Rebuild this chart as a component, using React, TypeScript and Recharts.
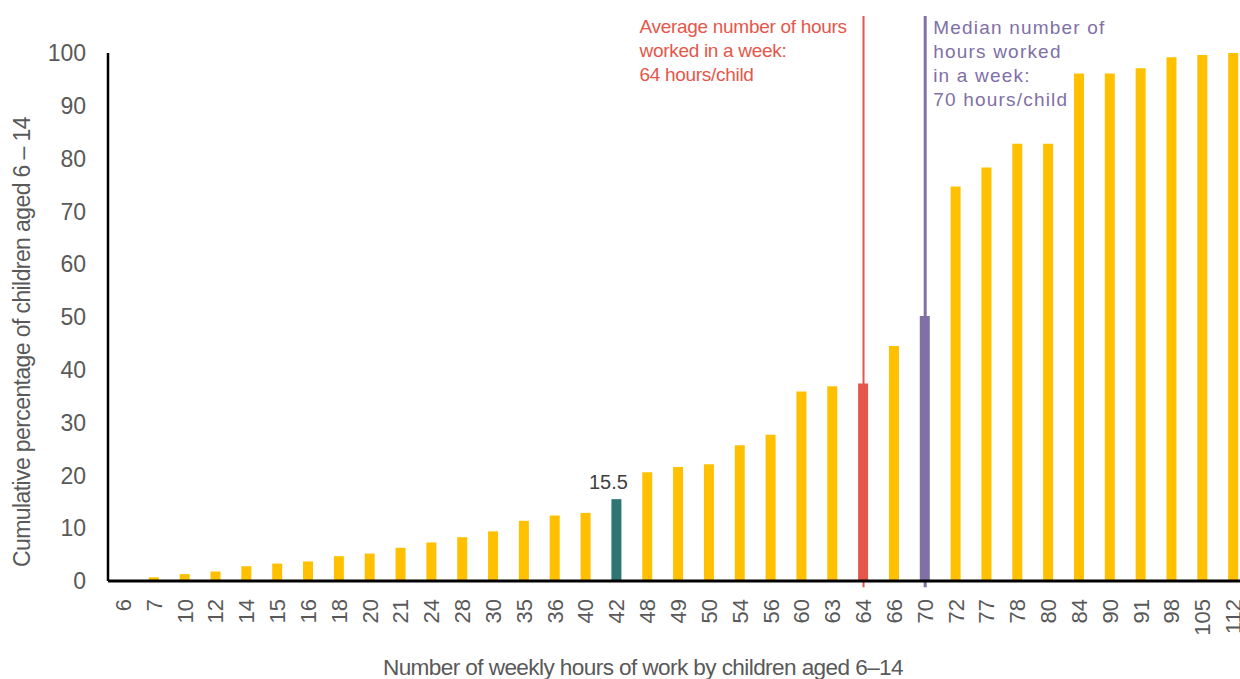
import React from "react";
import { BarChart, Bar, XAxis, YAxis, Cell, ReferenceLine, LabelList, Label } from "recharts";

const hours = ["6", "7", "10", "12", "14", "15", "16", "18", "20", "21", "24", "28", "30", "35", "36", "40", "42", "48", "49", "50", "54", "56", "60", "63", "64", "66", "70", "72", "77", "78", "80", "84", "90", "91", "98", "105", "112"];
const cumulative = [0, 0.7, 1.3, 1.8, 2.8, 3.3, 3.7, 4.7, 5.2, 6.3, 7.3, 8.3, 9.4, 11.4, 12.4, 12.9, 15.5, 20.6, 21.6, 22.1, 25.7, 27.7, 35.9, 36.9, 37.4, 44.5, 50.2, 74.7, 78.3, 82.8, 82.8, 96.1, 96.1, 97.1, 99.2, 99.6, 100];
const yTicks = [0, 10, 20, 30, 40, 50, 60, 70, 80, 90, 100];

const highlightColors: Record<string, string> = { "42": "#2E7673", "64": "#E5574A", "70": "#8070A6" };
const labelled = ["42"];
const avgHours = "64";
const medianHours = "70";
const avgNote = ["Average number of hours", "worked in a week:", "64 hours/child"];
const medianNote = ["Median number of", "hours worked", "in a week:", "70 hours/child"];

const data = hours.map((h, i) => ({
  hours: h,
  pct: cumulative[i],
  note: labelled.includes(h) ? cumulative[i] : null,
}));

const font = "Liberation Sans, Arial, sans-serif";
const grey = "#595959";

const XTick = ({ x, y, payload }: any) => (
  <text
    x={x}
    y={y + 16}
    transform={`rotate(-90 ${x} ${y + 16})`}
    textAnchor="end"
    dominantBaseline="central"
    fontSize={22}
    fill={grey}
    fontFamily={font}
  >
    {payload.value}
  </text>
);

const AvgText = ({ viewBox }: any) => {
  const x = (viewBox?.x ?? 0) - 224;
  return (
    <text x={x} fontSize={19} fill="#E5574A" fontFamily={font} letterSpacing={-0.3}>
      {avgNote.map((t, i) => (
        <tspan key={i} x={x} y={33 + i * 24}>{t}</tspan>
      ))}
    </text>
  );
};

const MedianText = ({ viewBox }: any) => {
  const x = (viewBox?.x ?? 0) + 8;
  return (
    <text x={x} fontSize={19} fill="#8070A6" fontFamily={font} letterSpacing={1.2}>
      {medianNote.map((t, i) => (
        <tspan key={i} x={x} y={34 + i * 24}>{t}</tspan>
      ))}
    </text>
  );
};

const NoteLabel = ({ x, y, width, value }: any) => {
  if (value == null) return null;
  return (
    <text x={x + width / 2 - 8} y={y - 10} textAnchor="middle" fontSize={20} fill="#404040" fontFamily={font}>
      {value}
    </text>
  );
};

export default function App() {
  return (
    <div style={{ position: "absolute", left: 0, top: 0, width: 1240, height: 679, overflow: "hidden", background: "#fff" }}>
      <BarChart width={1252} height={679} data={data} margin={{ top: 53, right: 3, bottom: 0, left: 0 }}>
        <XAxis
          dataKey="hours"
          interval={0}
          height={98}
          tick={<XTick />}
          tickLine={false}
          tickSize={0}
          axisLine={{ stroke: "#000", strokeWidth: 3 }}
        >
          <Label
            content={() => (
              <text x={643} y={675} textAnchor="middle" fontSize={22.6} fill={grey} fontFamily={font} letterSpacing={-0.6}>
                Number of weekly hours of work by children aged 6–14
              </text>
            )}
          />
        </XAxis>
        <YAxis
          width={108}
          domain={[0, 100]}
          ticks={yTicks}
          interval={0}
          tickLine={false}
          tickSize={0}
          tickMargin={22}
          axisLine={{ stroke: "#000", strokeWidth: 2.5 }}
          tick={{ fontSize: 23, fill: grey, fontFamily: font }}
        >
          <Label
            content={() => (
              <text x={22} y={342} transform="rotate(-90 22 342)" textAnchor="middle" dominantBaseline="central" fontSize={23} fill={grey} fontFamily={font} letterSpacing={-0.6}>
                Cumulative percentage of children aged 6 – 14
              </text>
            )}
          />
        </YAxis>
        <Bar dataKey="pct" barSize={10} isAnimationActive={false}>
          {data.map((d) => (
            <Cell key={d.hours} fill={highlightColors[d.hours] ?? "#FFC000"} />
          ))}
          <LabelList dataKey="note" content={<NoteLabel />} />
        </Bar>
        <ReferenceLine
          segment={[{ x: avgHours, y: -1.2 }, { x: avgHours, y: 107 }]}
          stroke="#E5574A"
          strokeWidth={2}
          ifOverflow="visible"
          label={<AvgText />}
        />
        <ReferenceLine
          segment={[{ x: medianHours, y: -1.2 }, { x: medianHours, y: 107 }]}
          stroke="#8070A6"
          strokeWidth={3}
          ifOverflow="visible"
          label={<MedianText />}
        />
      </BarChart>
    </div>
  );
}
